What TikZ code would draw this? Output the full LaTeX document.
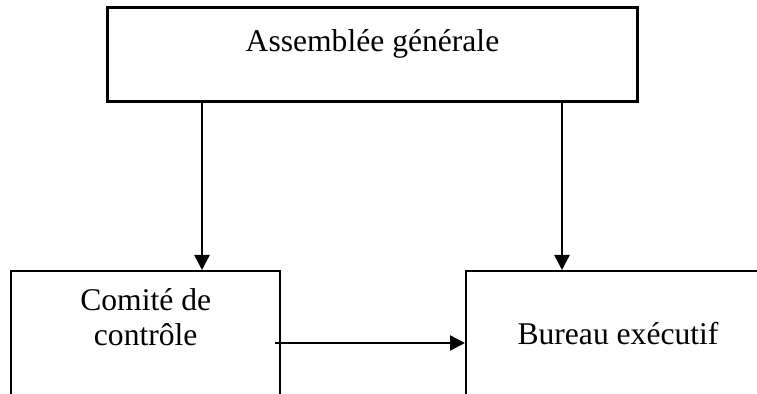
\documentclass[tikz,border=0pt]{standalone}
\usepackage{fontspec}
\setmainfont{Liberation Serif}
\usetikzlibrary{arrows.meta,positioning,calc}

\begin{document}
\begin{tikzpicture}[
  x=0.5pt, y=-0.5pt, >={Triangle[length=7.5pt,width=7.5pt]},
  box/.style={draw, line width=1.2pt, inner sep=0pt, anchor=north west},
  lbl/.style={font=\fontsize{15.8}{17.8}\selectfont, align=center, inner sep=0pt},
  arr/.style={->, line width=1.2pt}]
  \useasboundingbox (0,0) rectangle (757,394);
  \clip (0,0) rectangle (757,394);
  % boxes
  \node[box, line width=1.5pt, minimum width=265pt, minimum height=47pt] (ag) at (106,6) {};
  \node[box, minimum width=134.5pt, minimum height=80pt] (ctrl) at (10,270) {};
  \node[box, minimum width=160pt, minimum height=80pt] (bureau) at (465,270) {};
  % texts
  \node[lbl, anchor=base] (agtxt) at ($(ag.north)+(0,46)$) {Assemblée générale};
  \node[lbl, anchor=base] (ctrltxt) at ($(ctrl.north)+(0,76)$) {Comité de\\ contrôle};
  \node[lbl, anchor=base] (bureautxt) at ($(bureau.north west)+(153,75)$) {Bureau exécutif};
  % arrows
  \draw[arr] ($(ag.south west)+(96,0)$) coordinate (a1) -- (a1 |- ctrl.north);
  \draw[arr] ($(ag.south west)+(456,0)$) coordinate (a2) -- (a2 |- bureau.north);
  \draw[arr] ($(ctrl.north east)+(-6,73)$) coordinate (h) -- (h -| bureau.west);
\end{tikzpicture}
\end{document}
